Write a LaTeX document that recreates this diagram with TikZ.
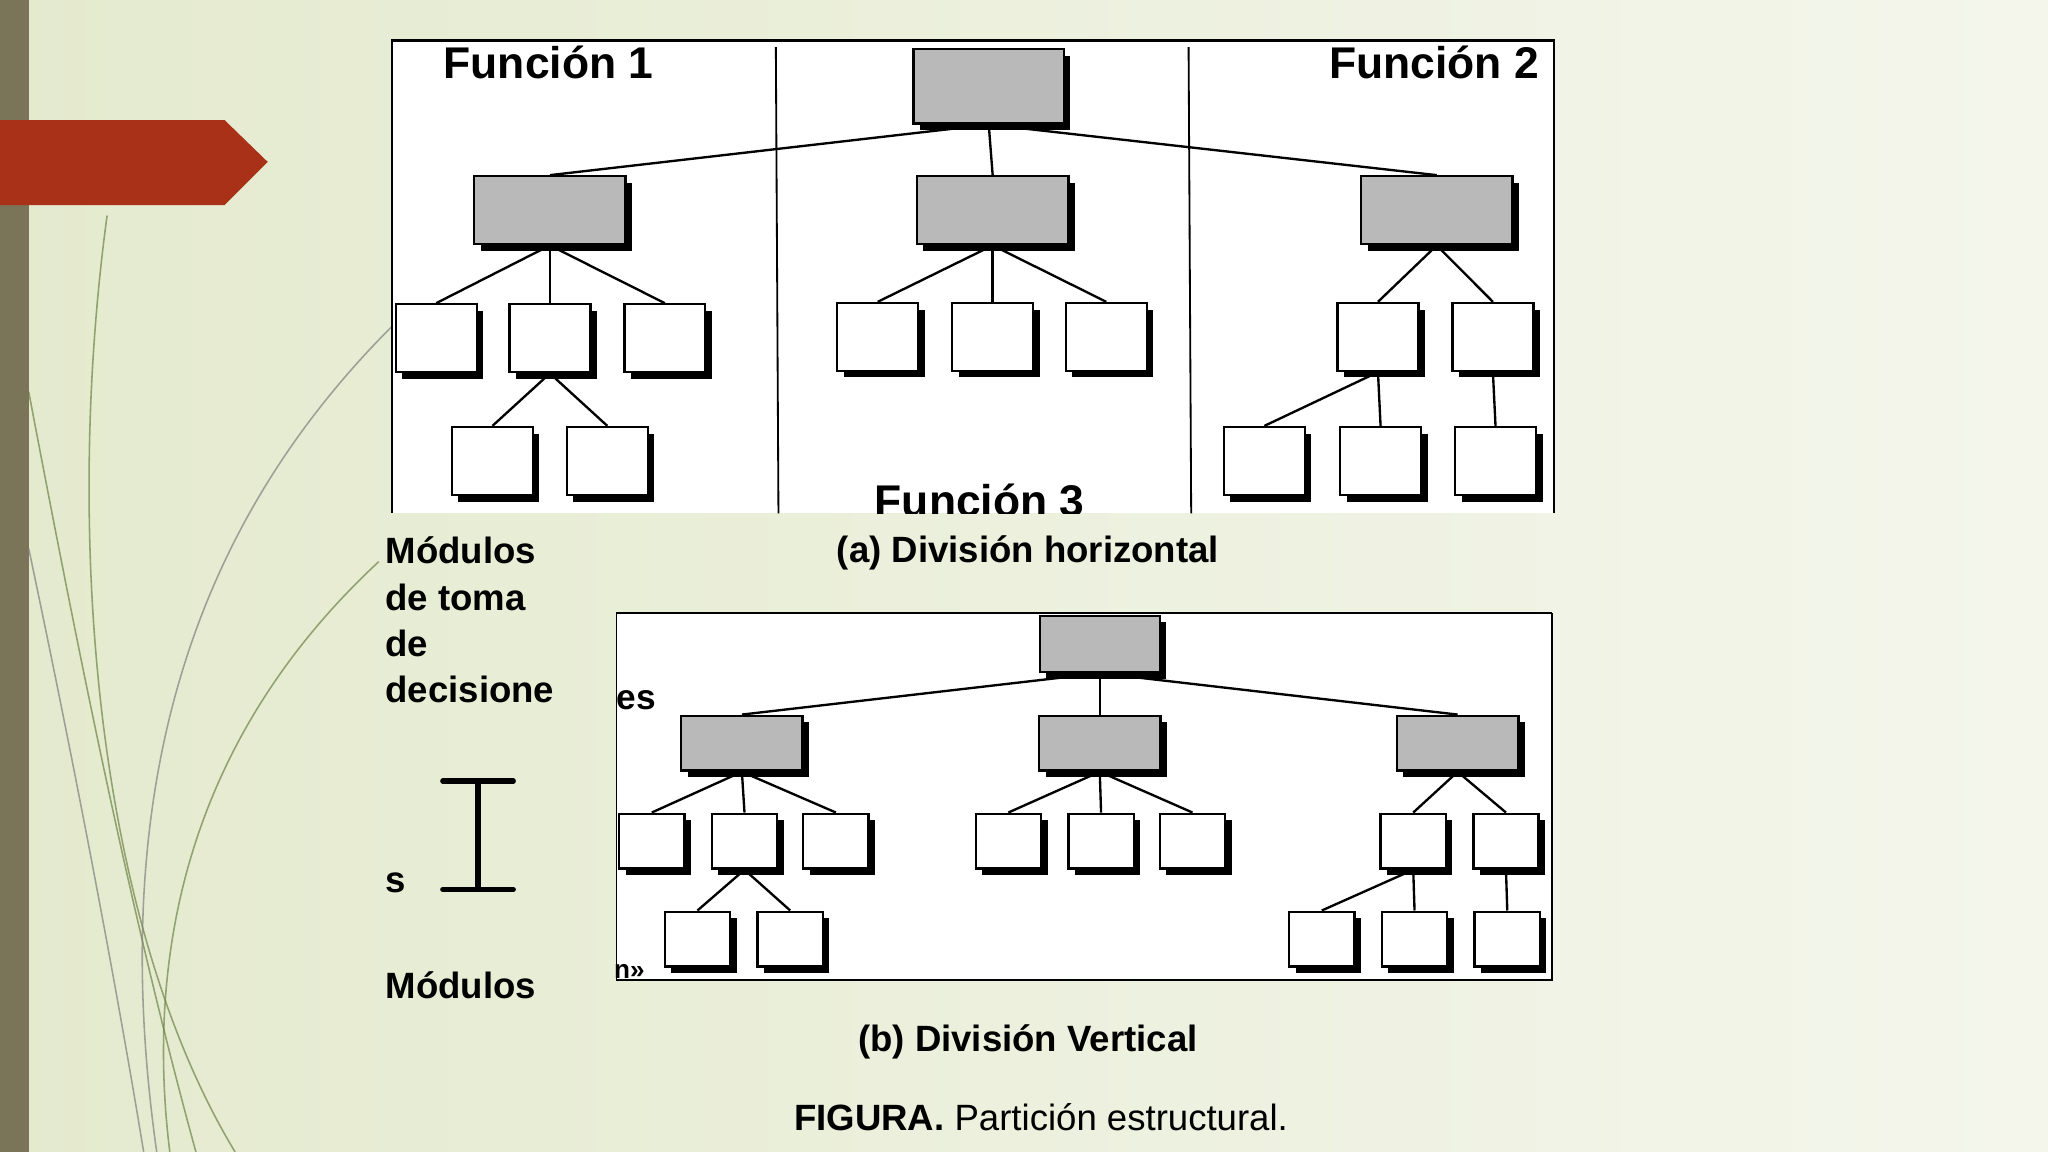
\documentclass[tikz,border=0pt]{standalone}
\usepackage{fontspec}
\setmainfont{Liberation Sans}
\usetikzlibrary{shadows}
\begin{document}
\begin{tikzpicture}[x=1pt,y=-1pt,
 box/.style={draw=black,line width=1.8pt,inner sep=0pt,drop shadow={shadow xshift=5pt,shadow yshift=-5pt,fill=black,opacity=1}},
 wa/.style={box,fill=white,minimum width=62pt,minimum height=52pt},
 ga/.style={box,fill=gray!55,minimum width=116pt,minimum height=52pt},
 wb/.style={box,fill=white,minimum width=50pt,minimum height=42pt},
 gb/.style={box,fill=gray!55,minimum width=93pt,minimum height=42pt},
 ln/.style={line width=1.8pt},
 lab/.style={font=\fontsize{28}{34}\selectfont\bfseries,inner sep=0pt},
 fn/.style={font=\fontsize{34}{36}\selectfont\bfseries,inner sep=0pt}]
\useasboundingbox (0,0) rectangle (1568,882);
\shade[left color={rgb,255:red,228;green,234;blue,206},right color={rgb,255:red,244;green,246;blue,236}] (0,0) rectangle (1568,882);
\fill[color={rgb,255:red,122;green,116;blue,88}] (0,0) rectangle (22,882);
% decorative curves
\begin{scope}[line width=1.2pt,color={rgb,255:red,110;green,130;blue,70},opacity=.7]
\draw (82,165) .. controls (50,400) and (70,700) .. (180,882);
\draw (22,300) .. controls (60,500) and (100,700) .. (150,882);
\draw[color=gray] (300,250) .. controls (150,400) and (80,600) .. (120,882);
\draw[color=gray] (22,420) .. controls (60,600) and (90,760) .. (110,882);
\draw (290,430) .. controls (150,560) and (110,720) .. (130,882);
\end{scope}
\fill[color={rgb,255:red,169;green,49;blue,24}] (0,92) -- (172,92) -- (205,124) -- (172,157) -- (0,157) -- cycle;
% panel a
\fill[white] (300,30) rectangle (1190,393);
\draw[line width=2.5pt] (300,31) -- (1190,31);
\draw[line width=1.4pt] (300,30) -- (300,393);
\draw[line width=1.4pt] (594,36) -- (596,393);
\draw[line width=1.4pt] (910,36) -- (912,393);
\draw[line width=1.4pt] (1190,30) -- (1190,393);
\node[fn] (f1) at (420,48) {Función 1};
\node[fn] (f2) at (1098,48) {Función 2};
\begin{scope}
\clip (596,300) rectangle (910,393);
\node[fn,anchor=north] (f3) at (750,370) {Función 3};
\end{scope}
\node[ga,minimum width=115pt,minimum height=57pt] (A) at (757,66) {};
\node[ga] (A1) at (421,161) {};
\node[ga] (A2) at (760,161) {};
\node[ga] (A3) at (1100,161) {};
\node[wa] (a11) at (334,259) {};
\node[wa] (a12) at (421,259) {};
\node[wa] (a13) at (509,259) {};
\node[wa] (a121) at (377,353) {};
\node[wa] (a122) at (465,353) {};
\node[wa] (a21) at (672,258) {};
\node[wa] (a22) at (760,258) {};
\node[wa] (a23) at (847,258) {};
\node[wa] (a31) at (1055,258) {};
\node[wa] (a32) at (1143,258) {};
\node[wa] (a311) at (968,353) {};
\node[wa] (a312) at (1057,353) {};
\node[wa] (a321) at (1145,353) {};
\draw[ln] (A.south) -- (A1.north); \draw[ln] (A.south) -- (A2.north); \draw[ln] (A.south) -- (A3.north);
\foreach \c in {a11,a12,a13} \draw[ln] (A1.south) -- (\c.north);
\foreach \c in {a121,a122} \draw[ln] (a12.south) -- (\c.north);
\foreach \c in {a21,a22,a23} \draw[ln] (A2.south) -- (\c.north);
\foreach \c in {a31,a32} \draw[ln] (A3.south) -- (\c.north);
\foreach \c in {a311,a312} \draw[ln] (a31.south) -- (\c.north);
\draw[ln] (a32.south) -- (a321.north);
\node[lab] (ca) at (787,423) {(a) División horizontal};
% panel b
\fill[white] (472,469) rectangle (1188,750);
\draw[line width=1.5pt] (472,469) -- (1188,469);
\draw[line width=1.4pt] (472,469) -- (472,750) -- (1188,750) -- (1188,469);
\node[font=\fontsize{27}{30}\selectfont\bfseries,anchor=west,inner sep=0pt] (es) at (472,536) {es};
\node[font=\fontsize{20}{24}\selectfont\bfseries,anchor=west,inner sep=0pt] (nq) at (470,744) {n»};
\node[gb,minimum width=92pt,minimum height=43pt] (B) at (842,493) {};
\node[gb] (B1) at (568,569) {};
\node[gb] (B2) at (842,569) {};
\node[gb] (B3) at (1116,569) {};
\node[wb] (b11) at (499,644) {};
\node[wb] (b12) at (570,644) {};
\node[wb] (b13) at (640,644) {};
\node[wb] (b121) at (534,719) {};
\node[wb] (b122) at (605,719) {};
\node[wb] (b21) at (772,644) {};
\node[wb] (b22) at (843,644) {};
\node[wb] (b23) at (913,644) {};
\node[wb] (b31) at (1082,644) {};
\node[wb] (b32) at (1153,644) {};
\node[wb] (b311) at (1012,719) {};
\node[wb] (b312) at (1083,719) {};
\node[wb] (b321) at (1154,719) {};
\draw[ln] (B.south) -- (B1.north); \draw[ln] (B.south) -- (B2.north); \draw[ln] (B.south) -- (B3.north);
\foreach \c in {b11,b12,b13} \draw[ln] (B1.south) -- (\c.north);
\foreach \c in {b121,b122} \draw[ln] (b12.south) -- (\c.north);
\foreach \c in {b21,b22,b23} \draw[ln] (B2.south) -- (\c.north);
\foreach \c in {b31,b32} \draw[ln] (B3.south) -- (\c.north);
\foreach \c in {b311,b312} \draw[ln] (b31.south) -- (\c.north);
\draw[ln] (b32.south) -- (b321.north);
\node[lab] (cb) at (787,798) {(b) División Vertical};
% left labels
\node[lab,anchor=north west,align=left,font=\fontsize{28}{35.3}\selectfont\bfseries] (m1) at (295,411) {Módulos\\de toma\\de\\decisione};
\node[lab,anchor=west] (s) at (295,676) {s};
\node[lab,anchor=west] (m2) at (295,754) {Módulos};
\coordinate (it) at (366,598); \coordinate (ib) at (366,681);
\draw[line width=4pt] (it) -- (ib);
\draw[line width=4pt,line cap=round] (339,598) -- (393,598);
\draw[line width=4pt,line cap=round] (339,681) -- (393,681);
\node[font=\fontsize{28}{34}\selectfont,inner sep=0pt] (fig) at (797,855) {\textbf{FIGURA.} Partición estructural.};
\end{tikzpicture}
\end{document}
